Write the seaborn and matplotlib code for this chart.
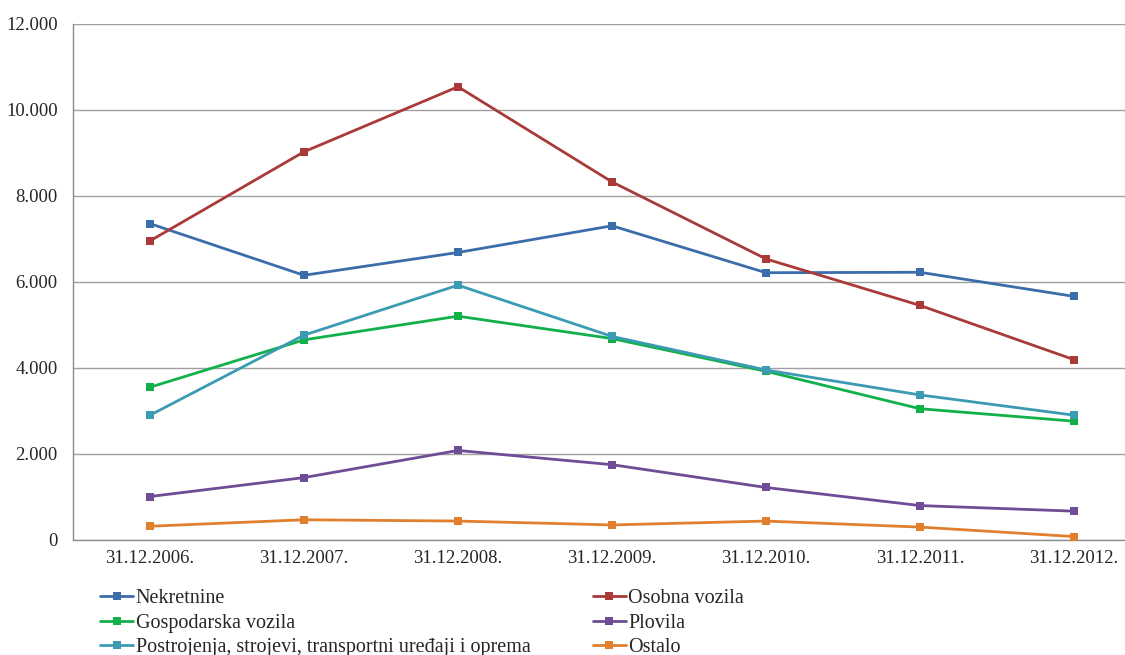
# line chart of asset values by category, 2006-2012

import pandas as pd
import seaborn as sns
import matplotlib.pyplot as plt
from matplotlib.ticker import FuncFormatter, FixedLocator

# data
dates = ['31.12.2006.', '31.12.2007.', '31.12.2008.', '31.12.2009.',
         '31.12.2010.', '31.12.2011.', '31.12.2012.']
nekretnine = [7350, 6150, 6680, 7300, 6210, 6220, 5660]
osobna_vozila = [6950, 9020, 10530, 8320, 6530, 5450, 4190]
gospodarska_vozila = [3550, 4650, 5200, 4680, 3920, 3050, 2760]
plovila = [1010, 1450, 2080, 1750, 1220, 800, 670]
postrojenja = [2900, 4760, 5920, 4730, 3950, 3370, 2900]
ostalo = [320, 470, 440, 350, 440, 300, 80]

series = {
    'Nekretnine': nekretnine,
    'Osobna vozila': osobna_vozila,
    'Gospodarska vozila': gospodarska_vozila,
    'Plovila': plovila,
    'Postrojenja, strojevi, transportni uređaji i oprema': postrojenja,
    'Ostalo': ostalo,
}
colors = {
    'Nekretnine': '#3C6DAB',
    'Osobna vozila': '#AA3A38',
    'Gospodarska vozila': '#12B04A',
    'Plovila': '#6E4D96',
    'Postrojenja, strojevi, transportni uređaji i oprema': '#3A9BB2',
    'Ostalo': '#E07F2E',
}

rows = []
for name, vals in series.items():
    for i, v in enumerate(vals):
        rows.append({'pos': i, 'Kategorija': name, 'Vrijednost': v})
df = pd.DataFrame(rows)

sns.set_style('white')
plt.rcParams['font.family'] = ['Liberation Serif', 'DejaVu Serif']

fig = plt.figure(figsize=(11.25, 6.55), dpi=100)
# plot area runs past the right edge of the picture, as in the original
ax = fig.add_axes([73 / 1125, 1 - 540 / 655, 1078 / 1125, 516.5 / 655])

sns.lineplot(data=df, x='pos', y='Vrijednost', hue='Kategorija',
             palette=colors, marker='s', markersize=6, markeredgewidth=0,
             linewidth=2, dashes=False, ax=ax, legend=False, zorder=3)

ax.set_xlim(-0.5, 6.5)
ax.set_ylim(0, 12000)
ax.set_yticks(range(0, 12001, 2000))
ax.yaxis.set_major_formatter(FuncFormatter(lambda v, p: f'{int(v):,}'.replace(',', '.')))
ax.set_xticks(range(len(dates)))
ax.set_xticklabels(dates)
ax.xaxis.set_minor_locator(FixedLocator([i + 0.5 for i in range(-1, 7)]))
ax.tick_params(axis='x', which='major', length=0, pad=7, labelsize=13.5)
ax.tick_params(axis='x', which='minor', length=5, color='#8c8c8c', width=1)
ax.tick_params(axis='y', length=5, color='#8c8c8c', width=1, pad=6, labelsize=13.5)
ax.grid(axis='y', color='#a0a0a0', linewidth=1)
ax.set_axisbelow(True)
for s in ['top', 'right']:
    ax.spines[s].set_visible(False)
for s in ['left', 'bottom']:
    ax.spines[s].set_color('#8c8c8c')
    ax.spines[s].set_linewidth(1)
ax.set_xlabel('')
ax.set_ylabel('')

# legend: two columns, filled row by row
order = ['Nekretnine', 'Gospodarska vozila',
         'Postrojenja, strojevi, transportni uređaji i oprema',
         'Osobna vozila', 'Plovila', 'Ostalo']
handles = [plt.Line2D([], [], color=colors[n], marker='s', markersize=6,
                      markeredgewidth=0, linewidth=2) for n in order]
fig.legend(handles, order, ncol=2, loc='upper left',
           bbox_to_anchor=(100 / 1125, 1 - 589 / 655), frameon=False,
           fontsize=14.5, handlelength=1.65, handletextpad=0.12,
           labelspacing=0.27, columnspacing=3.1, borderaxespad=0, borderpad=0)

plt.savefig('out.png', dpi=100)
